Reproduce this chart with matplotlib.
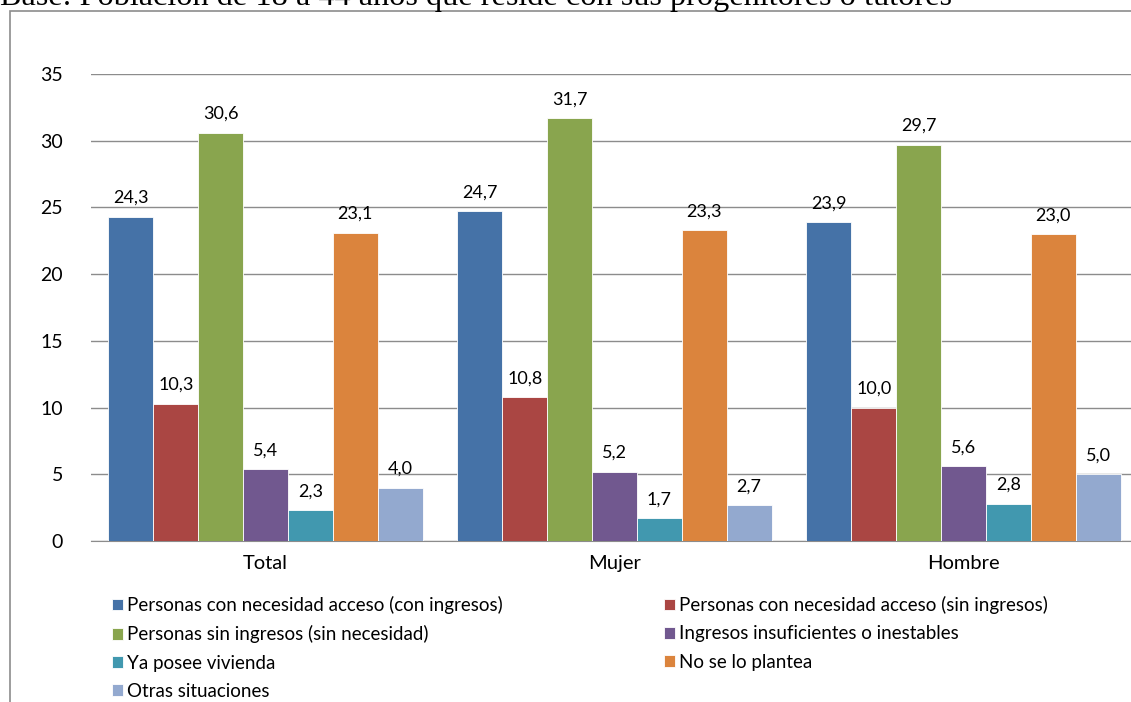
import numpy as np
import matplotlib
matplotlib.use('Agg')
import matplotlib.pyplot as plt
from matplotlib.patches import Rectangle

# Data
groups = ['Total', 'Mujer', 'Hombre']
series = ['Personas con necesidad acceso (con ingresos)',
          'Personas con necesidad acceso (sin ingresos)',
          'Personas sin ingresos (sin necesidad)',
          'Ingresos insuficientes o inestables',
          'Ya posee vivienda',
          'No se lo plantea',
          'Otras situaciones']
con_ingresos = [24.3, 24.7, 23.9]
sin_ingresos = [10.3, 10.8, 10.0]
sin_necesidad = [30.6, 31.7, 29.7]
insuficientes = [5.4, 5.2, 5.6]
ya_posee = [2.3, 1.7, 2.8]
no_plantea = [23.1, 23.3, 23.0]
otras = [4.0, 2.7, 5.0]
values = [con_ingresos, sin_ingresos, sin_necesidad, insuficientes,
          ya_posee, no_plantea, otras]
colors = ['#4572A7', '#AA4643', '#89A54E', '#71588F', '#4198AF', '#DB843D', '#93A9CF']

plt.rcParams['font.family'] = 'Lato'

fig = plt.figure(figsize=(11.31, 7.02), dpi=100)
ax = fig.add_axes([91/1131, 1-541/702, 1047/1131, 467/702])

# frame around the chart (runs off the right and bottom edges)
fig.patches.append(Rectangle((10/1131, -0.1), 1.2, 1.1-11/702, transform=fig.transFigure,
                             fill=False, edgecolor='#8c8c8c', lw=1.2))
fig.text(0, 1-5/702, 'Base: Población de 18 a 44 años que reside con sus progenitores o tutores',
         family='Liberation Serif', fontsize=23.2, va='baseline', ha='left')

x = np.arange(len(groups))
w = 0.9 / len(series)
handles = []
for i in range(len(series)):
    pos = x - 0.45 + w * (i + 0.5)
    b = ax.bar(pos, values[i], width=w, color=colors[i], edgecolor='white', linewidth=0.6,
               label=series[i], zorder=3)
    handles.append(b)
    for p, v in zip(pos, values[i]):
        ax.text(p, v + 0.8, '{:.1f}'.format(v).replace('.', ','), ha='center', va='bottom',
                fontsize=13)

ax.set_xlim(-0.5, 2.5)
ax.set_ylim(0, 35)
ax.set_yticks(range(0, 40, 5))
ax.yaxis.grid(True, color='#8c8c8c', linewidth=1)
ax.set_axisbelow(True)
for s in ['left', 'right', 'top']:
    ax.spines[s].set_visible(False)
ax.spines['bottom'].set_color('#8c8c8c')
ax.tick_params(axis='y', length=0, pad=20, labelsize=14)
ax.tick_params(axis='x', length=0, pad=10, labelsize=14.5)
ax.set_xticks(x)
ax.set_xticklabels(groups)

# legend in two columns placed by hand
leg_kw = dict(frameon=False, fontsize=13.5, handlelength=0.6, handleheight=0.6,
              handletextpad=0.2, labelspacing=0.6, borderaxespad=0, borderpad=0)
l1 = fig.legend([handles[i] for i in [0, 2, 4, 6]], [series[i] for i in [0, 2, 4, 6]],
                loc='upper left', bbox_to_anchor=(112/1131, 1-596/702), **leg_kw)
l2 = fig.legend([handles[i] for i in [1, 3, 5]], [series[i] for i in [1, 3, 5]],
                loc='upper left', bbox_to_anchor=(664/1131, 1-596/702), **leg_kw)

fig.savefig('out.png', dpi=100)
